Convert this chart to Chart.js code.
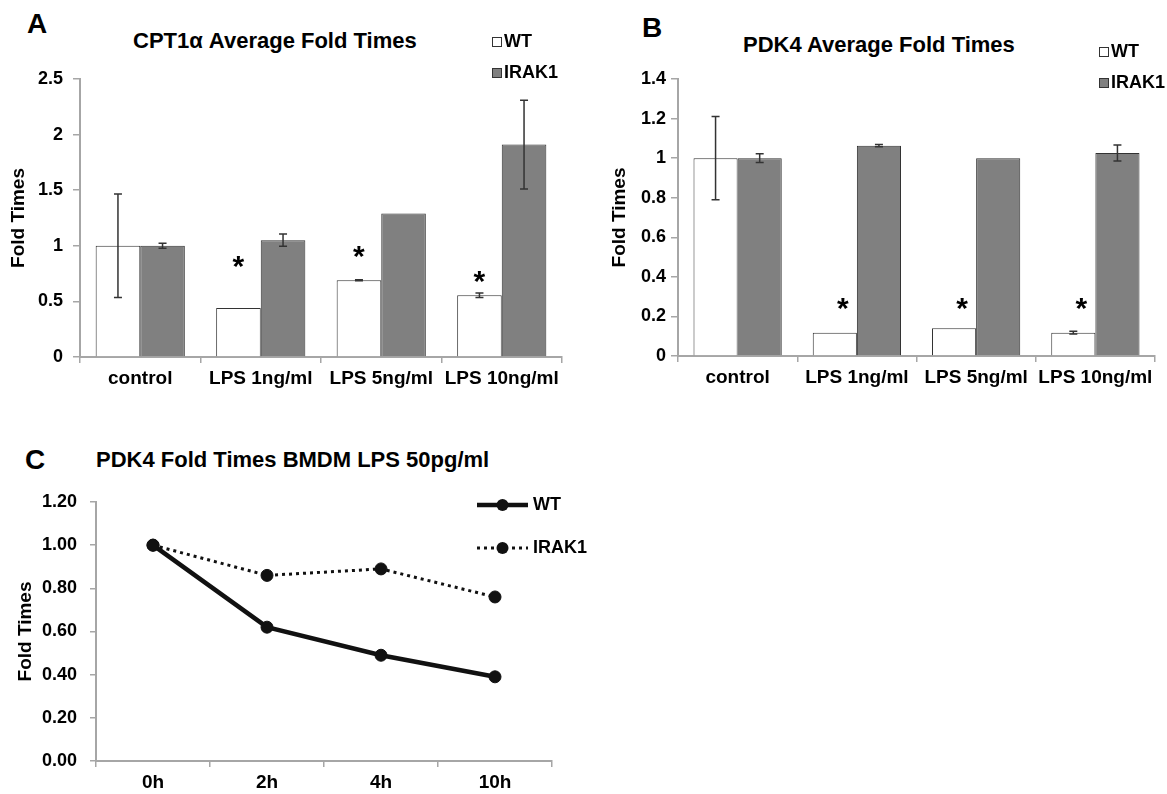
<!DOCTYPE html>
<html>
<head>
<meta charset="utf-8">
<script src="https://cdn.jsdelivr.net/npm/chart.js@4"></script>
<style>
  body { margin: 0; background: #fff; width: 1167px; height: 794px; position: relative; overflow: hidden;
         font-family: "Liberation Sans", Arial, sans-serif; font-weight: bold; color: #000; }
  canvas { position: absolute; }
  .lbl { position: absolute; white-space: nowrap; line-height: 1; }
  .panel { font-size: 28px; }
  .title { font-size: 22px; }
</style>
</head>
<body>
<div class="lbl panel" style="left:27px;top:10px">A</div>
<div class="lbl title" style="left:133px;top:30px">CPT1α Average Fold Times</div>
<div class="lbl panel" style="left:642px;top:14px">B</div>
<div class="lbl title" style="left:743px;top:34px">PDK4 Average Fold Times</div>
<div class="lbl panel" style="left:25px;top:446px">C</div>
<div class="lbl title" style="left:96px;top:449px">PDK4 Fold Times BMDM LPS 50pg/ml</div>

<canvas id="cptChart" width="580" height="400" style="left:0;top:0"></canvas>
<canvas id="pdkChart" width="587" height="400" style="left:580px;top:0"></canvas>
<canvas id="bmdmChart" width="620" height="394" style="left:0;top:400px"></canvas>

<script>
const FONT = '"Liberation Sans", Arial, sans-serif';

// A: CPT1a
const doseLabels = ["control", "LPS 1ng/ml", "LPS 5ng/ml", "LPS 10ng/ml"];
const cptWT = [1.00, 0.44, 0.69, 0.555];
const cptWTErr = [0.465, 0, 0.005, 0.02];
const cptIRAK1 = [1.00, 1.05, 1.29, 1.91];
const cptIRAK1Err = [0.022, 0.055, 0, 0.40];
const cptStars = [null, 0.88, 0.97, 0.75];

// B: PDK4
const pdkWT = [1.00, 0.118, 0.14, 0.118];
const pdkWTErr = [0.21, 0, 0, 0.007];
const pdkIRAK1 = [1.00, 1.063, 1.00, 1.026];
const pdkIRAK1Err = [0.022, 0.006, 0, 0.04];
const pdkStars = [null, 0.28, 0.28, 0.28];

// C: PDK4 time course
const timeLabels = ["0h", "2h", "4h", "10h"];
const bmdmWT = [1.00, 0.62, 0.49, 0.39];
const bmdmIRAK1 = [1.00, 0.86, 0.89, 0.76];

const AXIS = '#a6a6a6';

const errorBars = {
  id: 'errorBars',
  afterDatasetsDraw(chart, args, opts) {
    const ctx = chart.ctx;
    const y = chart.scales.y;
    chart.data.datasets.forEach((ds, i) => {
      if (!ds.errors) return;
      chart.getDatasetMeta(i).data.forEach((bar, j) => {
        const e = ds.errors[j];
        if (!e) return;
        const top = y.getPixelForValue(ds.data[j] + e);
        const bot = y.getPixelForValue(ds.data[j] - e);
        ctx.save();
        ctx.strokeStyle = opts.color;
        ctx.lineWidth = opts.width;
        ctx.beginPath();
        ctx.moveTo(bar.x, top); ctx.lineTo(bar.x, bot);
        ctx.moveTo(bar.x - opts.cap, top); ctx.lineTo(bar.x + opts.cap, top);
        ctx.moveTo(bar.x - opts.cap, bot); ctx.lineTo(bar.x + opts.cap, bot);
        ctx.stroke();
        ctx.restore();
      });
    });
  }
};

// asterisks over the WT bars
const stars = {
  id: 'stars',
  afterDatasetsDraw(chart, args, opts) {
    const ctx = chart.ctx;
    const y = chart.scales.y;
    const bars = chart.getDatasetMeta(0).data;
    ctx.save();
    ctx.fillStyle = '#000';
    ctx.font = 'bold ' + opts.size + 'px ' + FONT;
    ctx.textAlign = 'center';
    ctx.textBaseline = 'alphabetic';
    opts.values.forEach((v, j) => {
      if (v == null) return;
      ctx.fillText('*', bars[j].x + opts.dx, y.getPixelForValue(v) + opts.size * 0.57);
    });
    ctx.restore();
  }
};

// stacked legend in the upper right
const sideLegend = {
  id: 'sideLegend',
  afterDraw(chart, args, opts) {
    const ctx = chart.ctx;
    ctx.save();
    ctx.font = 'bold ' + opts.size + 'px ' + FONT;
    ctx.textBaseline = 'middle';
    ctx.textAlign = 'left';
    chart.data.datasets.forEach((ds, i) => {
      const cy = opts.y + i * opts.rowGap;
      if (chart.config.type === 'bar') {
        ctx.fillStyle = ds.backgroundColor;
        ctx.strokeStyle = ds.borderColor;
        ctx.lineWidth = 1;
        ctx.fillRect(opts.x, cy - 5, 10, 10);
        ctx.strokeRect(opts.x + 0.5, cy - 4.5, 9, 9);
      } else {
        ctx.strokeStyle = ds.borderColor;
        ctx.lineWidth = ds.borderWidth;
        ctx.setLineDash(ds.borderDash || []);
        ctx.beginPath();
        ctx.moveTo(opts.x, cy); ctx.lineTo(opts.x + opts.lineLen, cy);
        ctx.stroke();
        ctx.setLineDash([]);
        ctx.fillStyle = ds.pointBackgroundColor;
        ctx.beginPath();
        ctx.arc(opts.x + opts.lineLen / 2, cy, ds.pointRadius, 0, Math.PI * 2);
        ctx.fill();
      }
      ctx.fillStyle = '#000';
      ctx.fillText(ds.label, opts.x + opts.textDx, cy);
    });
    ctx.restore();
  }
};

// 2.5, 2, 1.5 ... without padded decimals
const plainTick = v => String(+v.toFixed(2));

function barScales(max, step, yWidth, xHeight, titlePad, tickPad) {
  return {
    x: {
      grid: { drawOnChartArea: false, tickLength: 6, color: AXIS, lineWidth: 1.5, offset: true },
      border: { color: AXIS, width: 2 },
      ticks: { color: '#000', font: { family: FONT, size: 19, weight: 'bold' }, padding: 4, maxRotation: 0 },
      afterFit(s) { s.height = xHeight; }
    },
    y: {
      min: 0, max: max,
      ticks: { stepSize: step, color: '#000', font: { family: FONT, size: 18, weight: 'bold' }, padding: tickPad,
               callback: plainTick },
      grid: { drawOnChartArea: false, tickLength: 7, color: AXIS, lineWidth: 1.5 },
      border: { color: AXIS, width: 2 },
      title: { display: true, text: 'Fold Times', color: '#000',
               font: { family: FONT, size: 19, weight: 'bold' }, padding: { top: titlePad, bottom: 0 } },
      afterFit(s) { s.width = yWidth; }
    }
  };
}

function barDatasets(wt, wtErr, irak, irakErr) {
  return [
    { label: 'WT', data: wt, errors: wtErr, backgroundColor: '#ffffff', borderColor: '#333333', borderWidth: 1 },
    { label: 'IRAK1', data: irak, errors: irakErr, backgroundColor: '#808080', borderColor: '#333333', borderWidth: 1 }
  ];
}

new Chart(document.getElementById('cptChart'), {
  type: 'bar',
  data: { labels: doseLabels, datasets: barDatasets(cptWT, cptWTErr, cptIRAK1, cptIRAK1Err) },
  options: {
    responsive: false,
    animation: false,
    layout: { padding: { top: 79, right: 18, left: 0, bottom: 0 } },
    datasets: { bar: { categoryPercentage: 0.74, barPercentage: 1 } },
    scales: barScales(2.5, 0.5, 80, 43, 7.6, 10),
    plugins: {
      legend: { display: false },
      tooltip: { enabled: false },
      errorBars: { color: '#333', width: 1.5, cap: 4 },
      stars: { values: cptStars, size: 30, dx: 0 },
      sideLegend: { x: 492, y: 42, rowGap: 31, size: 18, textDx: 12 }
    }
  },
  plugins: [errorBars, stars, sideLegend]
});

new Chart(document.getElementById('pdkChart'), {
  type: 'bar',
  data: { labels: doseLabels, datasets: barDatasets(pdkWT, pdkWTErr, pdkIRAK1, pdkIRAK1Err) },
  options: {
    responsive: false,
    animation: false,
    layout: { padding: { top: 79, right: 12, left: 0, bottom: 0 } },
    datasets: { bar: { categoryPercentage: 0.74, barPercentage: 1 } },
    scales: barScales(1.4, 0.2, 98, 44, 28.6, 5),
    plugins: {
      legend: { display: false },
      tooltip: { enabled: false },
      errorBars: { color: '#333', width: 1.5, cap: 4 },
      stars: { values: pdkStars, size: 30, dx: 8 },
      sideLegend: { x: 519, y: 52, rowGap: 31, size: 18, textDx: 12 }
    }
  },
  plugins: [errorBars, stars, sideLegend]
});

new Chart(document.getElementById('bmdmChart'), {
  type: 'line',
  data: {
    labels: timeLabels,
    datasets: [
      { label: 'WT', data: bmdmWT, borderColor: '#111', borderWidth: 4.5, pointRadius: 6,
        pointBackgroundColor: '#111', pointBorderColor: '#111', pointBorderWidth: 1, tension: 0 },
      { label: 'IRAK1', data: bmdmIRAK1, borderColor: '#111', borderWidth: 3, borderDash: [3, 4], pointRadius: 6,
        pointBackgroundColor: '#111', pointBorderColor: '#111', pointBorderWidth: 1, tension: 0 }
    ]
  },
  options: {
    responsive: false,
    animation: false,
    layout: { padding: { top: 102, right: 68, left: 0, bottom: 0 } },
    scales: {
      x: {
        offset: true,
        grid: { drawOnChartArea: false, tickLength: 6, color: AXIS, lineWidth: 1.5, offset: true },
        border: { color: AXIS, width: 2 },
        ticks: { color: '#000', font: { family: FONT, size: 19, weight: 'bold' }, padding: 4 },
        afterFit(s) { s.height = 33; }
      },
      y: {
        min: 0, max: 1.2,
        ticks: { stepSize: 0.2, color: '#000', font: { family: FONT, size: 18, weight: 'bold' }, padding: 13,
                 callback: v => v.toFixed(2) },
        grid: { drawOnChartArea: false, tickLength: 6, color: AXIS, lineWidth: 1.5 },
        border: { color: AXIS, width: 2 },
        title: { display: true, text: 'Fold Times', color: '#000',
                 font: { family: FONT, size: 19, weight: 'bold' }, padding: { top: 14.6, bottom: 0 } },
        afterFit(s) { s.width = 96; }
      }
    },
    plugins: {
      legend: { display: false },
      tooltip: { enabled: false },
      sideLegend: { x: 477, y: 105, rowGap: 43, size: 18, textDx: 56, lineLen: 51 }
    }
  },
  plugins: [sideLegend]
});
</script>
</body>
</html>
